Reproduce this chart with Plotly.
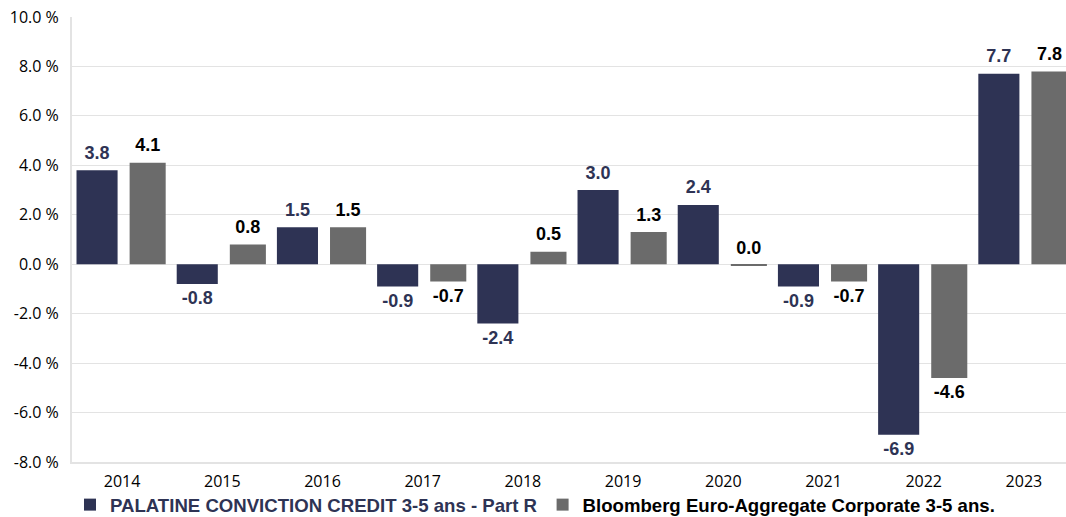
import plotly.graph_objects as go

years = ["2014", "2015", "2016", "2017", "2018", "2019", "2020", "2021", "2022", "2023"]
palatine = [3.8, -0.8, 1.5, -0.9, -2.4, 3.0, 2.4, -0.9, -6.9, 7.7]
bloomberg = [4.1, 0.8, 1.5, -0.7, 0.5, 1.3, -0.04, -0.7, -4.6, 7.8]
name_pal = "PALATINE CONVICTION CREDIT 3-5 ans - Part R"
name_blo = "Bloomberg Euro-Aggregate Corporate 3-5 ans."
tick_vals = [-8, -6, -4, -2, 0, 2, 4, 6, 8, 10]
tick_text = [f"{v:.1f} %" for v in tick_vals]

NAVY = "#2e3354"
GRAY = "#6b6b6b"
GRID = "#e3e3e3"

# bar geometry in category units
PAL_OFF, PAL_W = -0.455, 0.41
BLO_OFF, BLO_W = 0.075, 0.36
LABEL_PAD = 0.28  # label gap from bar end, in axis units

idx = list(range(len(years)))


def lab(v):
    s = f"{v:.1f}"
    return "0.0" if s == "-0.0" else s


fig = go.Figure()
fig.add_trace(go.Bar(
    x=idx, y=palatine, name=f"<span style='color:{NAVY}'>{name_pal}</span>",
    marker=dict(color=NAVY, line=dict(width=0)),
    offset=PAL_OFF, width=PAL_W, hoverinfo="skip",
))
fig.add_trace(go.Bar(
    x=idx, y=bloomberg, name=f"<span style='color:#000000'>{name_blo}</span>",
    marker=dict(color=GRAY, line=dict(width=0)),
    offset=BLO_OFF, width=BLO_W, hoverinfo="skip",
))

for vals, off, w, col in [(palatine, PAL_OFF, PAL_W, NAVY), (bloomberg, BLO_OFF, BLO_W, "#000000")]:
    pos = [round(v, 1) >= 0 for v in vals]
    fig.add_trace(go.Scatter(
        x=[i + off + w / 2 for i in idx],
        y=[v + LABEL_PAD if p else v - LABEL_PAD for v, p in zip(vals, pos)],
        mode="text",
        text=[lab(v) for v in vals],
        textposition=["top center" if p else "bottom center" for p in pos],
        textfont=dict(family="Arial", size=18, color=col, weight="bold"),
        showlegend=False, hoverinfo="skip", cliponaxis=False,
    ))

fig.update_layout(
    width=1066, height=517,
    margin=dict(l=72, r=0, t=17, b=55, autoexpand=False),
    paper_bgcolor="white", plot_bgcolor="white",
    barmode="overlay",
    showlegend=True,
    legend=dict(orientation="h", x=-0.002, xanchor="left", y=-0.054, yanchor="top",
                font=dict(family="Arial", size=18.6, color="#000000", weight="bold"),
                itemwidth=30, traceorder="normal", tracegroupgap=0,
                bgcolor="rgba(0,0,0,0)"),
    font=dict(family="Open Sans", size=16, color="#000000"),
)
fig.update_yaxes(range=[-8, 10], tickvals=tick_vals, ticktext=tick_text,
                 showgrid=True, gridcolor=GRID, gridwidth=1,
                 zeroline=True, zerolinecolor=GRID, zerolinewidth=1,
                 showline=True, linecolor=GRID, linewidth=2,
                 ticks="", ticklabelstandoff=8,
                 tickfont=dict(family="Open Sans", size=16, color="#000000"))
fig.update_xaxes(range=[-0.5, 9.42], tickvals=idx, ticktext=years,
                 showgrid=False, zeroline=False, showline=True, linecolor=GRID, linewidth=2,
                 ticks="", ticklabelstandoff=4,
                 tickfont=dict(family="Open Sans", size=16, color="#000000"))

fig.write_html("out.html", config={"displayModeBar": False},
               post_script="document.body.style.margin='0';document.body.style.overflow='hidden';")
